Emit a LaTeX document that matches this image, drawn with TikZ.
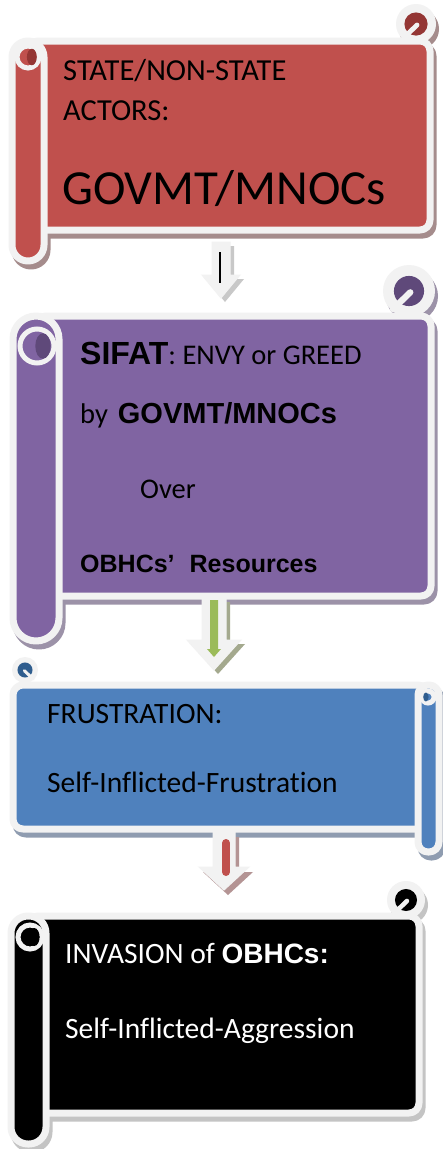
\documentclass[tikz,border=0pt]{standalone}
\usepackage{fontspec}
\setmainfont{Carlito}[Ligatures=CommonOff]
\newfontfamily\arialfont{Liberation Sans}
\definecolor{bord}{HTML}{F2F2F2}
\definecolor{redF}{HTML}{C0504D}
\definecolor{redD}{HTML}{943634}
\definecolor{redS}{HTML}{A58C8C}
\definecolor{purF}{HTML}{8064A2}
\definecolor{purD}{HTML}{5F497A}
\definecolor{purS}{HTML}{9C92A8}
\definecolor{bluF}{HTML}{4F81BD}
\definecolor{bluD}{HTML}{2F5D8E}
\definecolor{bluS}{HTML}{8F9CB0}
\definecolor{blkS}{HTML}{C4C4C4}
\definecolor{grnF}{HTML}{9BBB59}
\definecolor{grnS}{HTML}{A4A98E}
\definecolor{arrS}{HTML}{C8C8C8}
\definecolor{redAS}{HTML}{B49494}
\tikzset{
  scrollline/.style={draw=bord, line width=7pt, line join=round},
  shadowfill/.style={fill=#1, draw=#1, line width=7pt, line join=round},
  txt/.style={anchor=base west, inner sep=0pt, font=\fontsize{29.5}{35}\selectfont},
  arrowbody/.style={fill=bord, draw=bord, line width=1pt},
}
\newcommand\curlmark[5]{%
  \fill[bord] (#1,#2) circle[radius=#3];
  \fill[#4] (#1,#2) circle[radius={0.58*#3}];
  \draw[bord, line width={0.24*#3}, line cap=round] ({#1+(#5)*0.05*#3},{#2+0.05*#3}) -- ({#1-(#5)*0.62*#3},{#2+0.7*#3});
}
\newcommand\rollhole[6]{%
  \draw[bord, line width=5pt, fill=#4] (#1,#2) circle[radius=#3];
  \fill[#5] ({#1+(#6)*0.35*#3},#2) ellipse[x radius={0.45*#3}, y radius={0.75*#3}];
}
\newcommand\blockarr[7]{%
  \path[#7] ({#1-#3},#2) -- ({#1+#3},#2) -- ({#1+#3},#4) -- ({#1+#5},#4) -- (#1,#6) -- ({#1-#5},#4) -- ({#1-#3},#4) -- cycle;
}
\begin{document}
\begin{tikzpicture}[x=1pt,y=-1pt]
\useasboundingbox (0,0) rectangle (443,1149);
\fill[white] (0,0) rectangle (443,1149);

% ---------- scroll 1 (red) ----------
\begin{scope}[shift={(3,5)}]
  \path[shadowfill=redS, rounded corners=10pt] (28,41) rectangle (430,230);
  \path[shadowfill=redS, rounded corners=16pt] (12,41) rectangle (44,261);
  \fill[redS] (416,24) circle[radius=20];
\end{scope}
\draw[scrollline, fill=redF, rounded corners=10pt] (28,41) rectangle (430,230);
\draw[scrollline, fill=redF, rounded corners=16pt] (12,41) rectangle (44,261);
\curlmark{416}{24}{20}{redD}{1}
\rollhole{28}{57}{11}{redF}{redD}{1}
\node[txt, font=\fontsize{30.5}{36}\selectfont] (t1a) at (63,80) {STATE/NON-STATE};
\node[txt, font=\fontsize{30.5}{36}\selectfont] (t1b) at (63,120) {ACTORS:};
\node[txt, font=\fontsize{49}{58}\selectfont] (t1c) at (62,204) {GOVMT/MNOCs};

% ---------- arrow 1 ----------
\begin{scope}[shift={(4,4)}]
  \blockarr{221}{242}{9}{275}{19}{298}{fill=arrS}
\end{scope}
\blockarr{221}{242}{9}{275}{19}{298}{arrowbody}
\coordinate (a1top) at (220,252);
\coordinate (a1bot) at (220,283);
\draw[line width=1.5pt] (a1top) -- (a1bot);

% ---------- scroll 2 (purple) ----------
\begin{scope}[shift={(3,5)}]
  \path[shadowfill=purS, rounded corners=10pt] (36,316) rectangle (431,596);
  \path[shadowfill=purS, rounded corners=23pt] (13,316) rectangle (59,641);
  \fill[purS] (409,291) circle[radius=26];
\end{scope}
\draw[scrollline, fill=purF, rounded corners=10pt] (36,316) rectangle (431,596);
\draw[scrollline, fill=purF, rounded corners=23pt] (13,316) rectangle (59,641);
\curlmark{409}{291}{26}{purD}{1}
\rollhole{37}{346}{17}{purF}{purD}{1}
\node[txt, font=\fontsize{28.5}{34}\selectfont] (t2a) at (80,364) {{\arialfont\bfseries\fontsize{32}{38}\selectfont SIFAT}: ENVY or GREED};
\node[txt, font=\fontsize{28.5}{34}\selectfont] (t2b) at (80,423) {by\hspace{10pt}{\arialfont\bfseries\fontsize{29}{35}\selectfont GOVMT/MNOCs}};
\node[txt, font=\fontsize{28.5}{34}\selectfont] (t2c) at (140,498) {Over};
\node[txt, font=\arialfont\bfseries\fontsize{25}{30}\selectfont] (t2d) at (80,572) {OBHCs’\hspace{15pt}Resources};

% ---------- arrow 2 ----------
\begin{scope}[shift={(4,4)}]
  \blockarr{214}{598}{12}{640}{27}{670}{fill=grnS}
\end{scope}
\blockarr{214}{598}{12}{640}{27}{670}{arrowbody}
\fill[grnF] (210,600) -- (218,600) -- (218,649) -- (221,649) -- (214,657) -- (207,649) -- (210,649) -- cycle;

% ---------- scroll 3 (blue) ----------
\begin{scope}[shift={(3,5)}]
  \path[shadowfill=bluS, rounded corners=10pt] (13,685) rectangle (428,829);
  \path[shadowfill=bluS, rounded corners=10pt] (418,685) rectangle (439,852);
\end{scope}
\draw[scrollline, fill=bluF, rounded corners=10pt] (13,685) rectangle (428,829);
\draw[scrollline, fill=bluF, rounded corners=10pt] (418,685) rectangle (439,852);
\curlmark{25}{670}{13}{bluD}{-1}
\rollhole{428}{697}{6}{bluF}{bluD}{-1}
\node[txt] (t3a) at (47,723) {FRUSTRATION:};
\node[txt] (t3b) at (47,792) {Self-Inflicted-Frustration};

% ---------- arrow 3 ----------
\begin{scope}[shift={(4,5)}]
  \blockarr{224}{832}{11}{867}{25}{890}{fill=redAS}
\end{scope}
\blockarr{224}{832}{11}{867}{25}{890}{arrowbody}
\coordinate (a3top) at (226,843);
\coordinate (a3bot) at (226,872);
\draw[redF, line width=8pt, line cap=round] (a3top) -- (a3bot);

% ---------- scroll 4 (black) ----------
\begin{scope}[shift={(3,5)}]
  \path[shadowfill=blkS, rounded corners=10pt] (28,916) rectangle (419,1113);
  \path[shadowfill=blkS, rounded corners=17pt] (11,916) rectangle (46,1144);
  \fill[blkS] (406,900) circle[radius=19];
\end{scope}
\draw[scrollline, fill=black, rounded corners=10pt] (28,916) rectangle (419,1113);
\draw[scrollline, fill=black, rounded corners=17pt] (11,916) rectangle (46,1144);
\curlmark{406}{900}{19}{black}{1}
\rollhole{30}{937}{12}{black}{black}{1}
\node[txt, text=white] (t4a) at (65,963) {INVASION of {\arialfont\bfseries\fontsize{28}{34}\selectfont OBHCs:}};
\node[txt, text=white] (t4b) at (65,1038) {Self-Inflicted-Aggression};
\end{tikzpicture}
\end{document}
